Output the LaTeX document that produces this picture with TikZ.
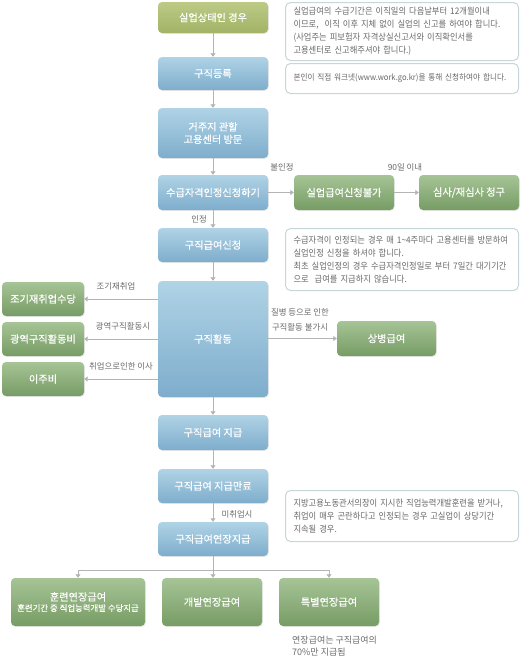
\documentclass[tikz,border=0pt]{standalone}
\usepackage{fontspec}
\setmainfont{Noto Sans CJK KR}
\newfontfamily\boxfont[FakeBold=0.4]{Noto Sans CJK KR}
\newfontfamily\notefont[FakeStretch=0.92]{Noto Sans CJK KR}
\usetikzlibrary{arrows.meta,shadows}
\definecolor{olivetop}{HTML}{BCCA86}
\definecolor{olivebot}{HTML}{A2B366}
\definecolor{bluetop}{HTML}{B0D3E6}
\definecolor{bluebot}{HTML}{7EADCC}
\definecolor{greentop}{HTML}{A6C496}
\definecolor{greenbot}{HTML}{779C65}
\definecolor{linegray}{HTML}{B4B4B4}
\definecolor{notegray}{HTML}{C6D6D9}
\definecolor{textgray}{HTML}{6A6A6A}
\tikzset{
  basebox/.style={rectangle, rounded corners=4pt, text=white, align=center,
    font=\boxfont\fontsize{10.2}{12.5}\selectfont, inner sep=2pt,
    drop shadow={opacity=0.18, shadow xshift=0.8pt, shadow yshift=-0.8pt}},
  olivebox/.style={basebox, top color=olivetop, bottom color=olivebot},
  bluebox/.style={basebox, top color=bluetop, bottom color=bluebot},
  greenbox/.style={basebox, top color=greentop, bottom color=greenbot},
  mainbox/.style={bluebox, minimum width=110pt},
  notebox/.style={rectangle, rounded corners=5pt, draw=notegray, line width=1pt,
    fill=white, anchor=north west, align=left, text=textgray,
    font=\notefont\fontsize{9}{13}\selectfont, inner xsep=8pt, text width=217pt},
  lbl/.style={text=textgray, font=\fontsize{8.4}{15}\selectfont, align=center, inner sep=0pt},
  conn/.style={draw=linegray, line width=0.8pt, -{Triangle[width=5pt,length=3.5pt]}},
  plain/.style={draw=linegray, line width=0.8pt}
}
\begin{document}
\begin{tikzpicture}[x=1pt,y=-1pt]
\useasboundingbox (0,0) rectangle (520,657);

% main column
\node[olivebox, minimum width=110pt, minimum height=31pt] (s1) at (213,17.5) {실업상태인 경우};
\node[mainbox, minimum height=33pt] (reg) at (213,73.5) {구직등록};
\node[mainbox, minimum height=50pt] (visit) at (213,133) {거주지 관할\\고용센터 방문};
\node[mainbox, minimum height=35pt] (apply) at (213,192.5) {수급자격인정신청하기};
\node[mainbox, minimum height=34pt] (req) at (213,245) {구직급여신청};
\node[mainbox, minimum height=116pt] (act) at (213,339) {구직활동};
\node[mainbox, minimum height=35pt] (pay) at (213,432.5) {구직급여 지급};
\node[mainbox, minimum height=34pt] (fin) at (213,486) {구직급여 지급만료};
\node[mainbox, minimum height=34pt] (ext) at (213,539) {구직급여연장지급};

% right branch
\node[greenbox, minimum width=100pt, minimum height=35pt] (deny) at (344,192.5) {실업급여신청불가};
\node[greenbox, minimum width=100pt, minimum height=35pt] (appeal) at (469,192.5) {심사/재심사 청구};
\node[greenbox, minimum width=99pt, minimum height=35pt] (sick) at (386.5,338.5) {상병급여};

% left branch
\node[greenbox, minimum width=82pt, minimum height=34pt] (early) at (43,299) {조기재취업수당};
\node[greenbox, minimum width=82pt, minimum height=34pt] (wide) at (43,339) {광역구직활동비};
\node[greenbox, minimum width=82pt, minimum height=34pt] (move) at (43,379) {이주비};

% bottom
\node[greenbox, minimum width=134pt, minimum height=48pt] (train) at (78,602)
  {훈련연장급여\\[-2pt]{\fontsize{8.4}{10}\selectfont 훈련기간 중 직업능력개발 수당지급}};
\node[greenbox, minimum width=100pt, minimum height=48pt] (dev) at (212,602) {개발연장급여};
\node[greenbox, minimum width=100pt, minimum height=48pt] (spec) at (329,602) {특별연장급여};

% notes
\node[notebox, minimum height=58pt] (n1) at (285,2)
  {실업급여의 수급기간은 이직일의 다음날부터 12개월이내\\
   이므로,~ 이직 이후 지체 없이 실업의 신고를 하여야 합니다.\\
   (사업주는 피보험자 자격상실신고서와 이직확인서를\\
   고용센터로 신고해주셔야 합니다.)};
\node[notebox, minimum height=30pt, font=\notefont\fontsize{8.3}{13}\selectfont] (n2) at (285,63)
  {본인이 직접 워크넷(www.work.go.kr)을 통해 신청하여야 합니다.};
\node[notebox, minimum height=62pt] (n3) at (285,228)
  {수급자격이 인정되는 경우 매 1\textasciitilde 4주마다 고용센터를 방문하여\\
   실업인정 신청을 하셔야 합니다.\\
   최초 실업인정의 경우 수급자격인정일로 부터 7일간 대기기간\\
   으로~ 급여를 지급하지 않습니다.};
\node[notebox, minimum height=51pt] (n4) at (285,490)
  {지방고용노동관서의장이 지시한 직업능력개발훈련을 받거나,\\
   취업이 매우 곤란하다고 인정되는 경우 고실업이 상당기간\\
   지속될 경우.};

% labels
\node[lbl] (l1) at (282,167) {불인정};
\node[lbl] (l2) at (405,167) {90일 이내};
\node[lbl] (l3) at (199,219) {인정};
\node[lbl] (l4) at (116,286) {조기재취업};
\node[lbl] (l5) at (123,326) {광역구직활동시};
\node[lbl] (l6) at (121,366) {취업으로인한 이사};
\node[lbl] (l7) at (300,319.5) {질병 등으로 인한\\구직활동 불가시};
\node[lbl] (l8) at (237,514) {미취업시};
\node[lbl, align=left, anchor=west, font=\fontsize{9}{12}\selectfont] (l9) at (292,646.5) {연장급여는 구직급여의\\70\%만 지급됨};

% connectors main column
\draw[conn] (s1) -- (reg);
\draw[conn] (reg) -- (visit);
\draw[conn] (visit) -- (apply);
\draw[conn] (apply) -- (req);
\draw[conn] (req) -- (act);
\draw[conn] (act) -- (pay);
\draw[conn] (pay) -- (fin);
\draw[conn] (fin) -- (ext);

% right
\draw[conn] (apply) -- (deny);
\draw[conn] (deny) -- (appeal);
\draw[conn] (act.east |- sick) -- (sick);

% left
\draw[conn] (act.west |- early) -- (early);
\draw[conn] (act.west |- wide) -- (wide);
\draw[conn] (act.west |- move) -- (move);

% bottom branch
\coordinate (br) at (213,570);
\coordinate (brl) at (78,570);
\coordinate (brr) at (329,570);
\draw[plain] (ext) -- (br);
\draw[plain] (brl) -- (brr);
\draw[conn] (brl) -- (train);
\draw[conn] (br) -- (dev.north -| br);
\draw[conn] (brr) -- (spec);
\end{tikzpicture}
\end{document}
